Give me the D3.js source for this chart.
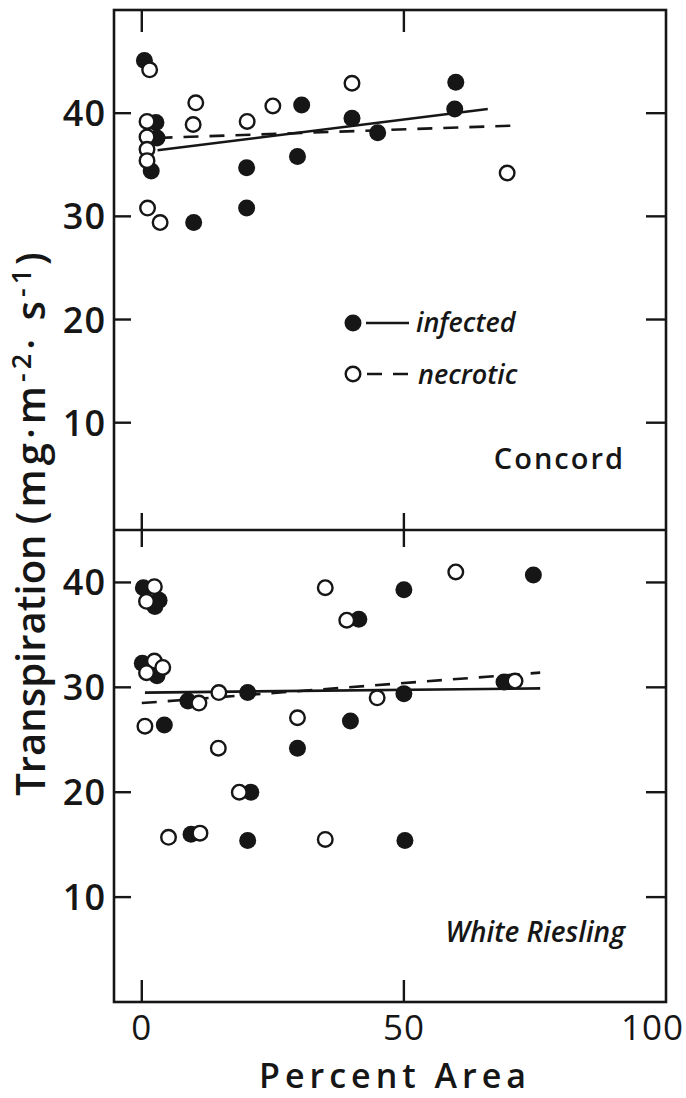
<!DOCTYPE html>
<html>
<head>
<meta charset="utf-8">
<script src="https://cdn.jsdelivr.net/npm/d3@7"></script>
<style>
  body { margin: 0; background: #fff; }
  text { font-family: "Open Sans", Lato, sans-serif; font-weight: 600; fill: #161616; }
</style>
</head>
<body>
<div id="chart"></div>
<script>
// percent area / transpiration (mg m-2 s-1)

let xTicks = [0, 50, 100]
let yTicks = [10, 20, 30, 40]

let concordInfected = [[0.5, 45.1], [2.7, 39.1], [2.9, 37.6], [1.8, 34.4], [9.9, 29.4], [20, 34.7], [20, 30.8],
    [29.7, 35.8], [30.5, 40.8], [40.1, 39.5], [45, 38.1], [59.9, 43.0], [59.7, 40.4]]
let concordNecrotic = [[1.5, 44.2], [1, 39.2], [1, 37.7], [1, 36.5], [1, 35.4], [1.1, 30.8], [3.5, 29.4],
    [10.3, 41.0], [9.8, 38.9], [20.1, 39.2], [25.0, 40.7], [40.1, 42.9], [69.7, 34.2]]
let concordInfectedFit = [[3, 36.4], [66, 40.4]]
let concordNecroticFit = [[3, 37.6], [71, 38.8]]

let rieslingInfected = [[0.3, 39.5], [3.3, 38.3], [2.5, 37.7], [0.1, 32.3], [2.9, 31.1], [4.3, 26.4], [8.8, 28.7],
    [20.2, 29.5], [29.7, 24.2], [20.8, 20.0], [9.4, 16.0], [20.2, 15.4], [50.2, 15.4], [41.4, 36.5], [39.8, 26.8],
    [50, 29.4], [50, 39.3], [69.1, 30.5], [74.7, 40.7]]
let rieslingNecrotic = [[2.4, 39.6], [0.9, 38.2], [2.4, 32.5], [0.9, 31.4], [4, 31.9], [0.6, 26.3], [10.9, 28.5],
    [14.7, 29.5], [14.6, 24.2], [29.7, 27.1], [18.6, 20.0], [5.1, 15.7], [11.1, 16.1], [35, 15.5], [35, 39.5],
    [39.1, 36.4], [44.9, 29.0], [59.9, 41.0], [71.2, 30.6]]
let rieslingInfectedFit = [[0.6, 29.5], [76, 29.9]]
let rieslingNecroticFit = [[0, 28.5], [76, 31.4]]

let ink = "#161616"
let width = 686, height = 1098
let left = 114, right = 666

let svg = d3.select("#chart").append("svg")
    .attr("width", width)
    .attr("height", height)

let x = d3.scaleLinear().domain([-5.3, 100]).range([left, right])

let panels = [
    { name: "Concord", italic: false, infected: concordInfected, necrotic: concordNecrotic,
      infFit: concordInfectedFit, necFit: concordNecroticFit,
      y: d3.scaleLinear().domain([-0.4, 50]).range([530, 10]) },
    { name: "White Riesling", italic: true, infected: rieslingInfected, necrotic: rieslingNecrotic,
      infFit: rieslingInfectedFit, necFit: rieslingNecroticFit,
      y: d3.scaleLinear().domain([0, 45]).range([1002, 530]) }
]

let frameTop = panels[0].y.range()[1], frameMid = panels[0].y.range()[0], frameBottom = panels[1].y.range()[0]

// frame and divider
svg.append("rect")
    .attr("x", left).attr("y", frameTop)
    .attr("width", right - left).attr("height", frameBottom - frameTop)
    .attr("fill", "none")
    .attr("stroke", ink)
    .attr("stroke-width", 2.6)

svg.append("line")
    .attr("x1", left).attr("x2", right)
    .attr("y1", frameMid).attr("y2", frameMid)
    .attr("stroke", ink)
    .attr("stroke-width", 2.6)

// x ticks: top edge, divider, bottom edge
let xt = xTicks.filter(d => d < 100)
svg.selectAll(".xtop").data(xt).enter().append("line")
    .attr("x1", d => x(d)).attr("x2", d => x(d))
    .attr("y1", frameTop).attr("y2", frameTop + 22)
    .attr("stroke", ink).attr("stroke-width", 2.4)
svg.selectAll(".xmid").data(xt).enter().append("line")
    .attr("x1", d => x(d)).attr("x2", d => x(d))
    .attr("y1", frameMid - 17).attr("y2", frameMid + 17)
    .attr("stroke", ink).attr("stroke-width", 2.4)
svg.selectAll(".xbot").data(xt).enter().append("line")
    .attr("x1", d => x(d)).attr("x2", d => x(d))
    .attr("y1", frameBottom).attr("y2", frameBottom - 22)
    .attr("stroke", ink).attr("stroke-width", 2.4)

svg.selectAll(".xlab").data(xTicks).enter().append("text")
    .attr("x", d => d == 100 ? 684 : x(d))
    .attr("y", 1040)
    .attr("text-anchor", d => d == 100 ? "end" : "middle")
    .style("font-size", "35px")
    .style("font-weight", 500)
    .style("letter-spacing", "1px")
    .text(d => d)

svg.append("text")
    .attr("x", 395)
    .attr("y", 1088)
    .attr("text-anchor", "middle")
    .style("font-size", "34px")
    .style("letter-spacing", "5px")
    .text("Percent Area")

let yTitle = svg.append("text")
    .attr("transform", "translate(45,522) rotate(-90)")
    .attr("text-anchor", "middle")
    .style("font-size", "40px")
yTitle.append("tspan").text("Transpiration ")
let unit = yTitle.append("tspan").style("letter-spacing", "4px")
unit.append("tspan").text("(mg·m")
unit.append("tspan").attr("dy", -14).style("font-size", "27px").text("-2")
unit.append("tspan").attr("dy", 14).text("· s")
unit.append("tspan").attr("dy", -14).style("font-size", "27px").text("-1")
unit.append("tspan").attr("dy", 14).text(")")

let line = d3.line().x(d => x(d[0]))

for (let p of panels) {
    let y = p.y
    line.y(d => y(d[1]))

    let g = svg.append("g")

    g.selectAll(".yl").data(yTicks).enter().append("line")
        .attr("x1", left).attr("x2", left + 17)
        .attr("y1", d => y(d)).attr("y2", d => y(d))
        .attr("stroke", ink).attr("stroke-width", 2.4)
    g.selectAll(".yr").data(yTicks).enter().append("line")
        .attr("x1", right).attr("x2", right - 20)
        .attr("y1", d => y(d)).attr("y2", d => y(d))
        .attr("stroke", ink).attr("stroke-width", 2.4)
    g.selectAll(".ylab").data(yTicks).enter().append("text")
        .attr("x", 106)
        .attr("y", d => y(d) + 13)
        .attr("text-anchor", "end")
        .style("font-size", "36px")
        .style("letter-spacing", "1px")
        .text(d => d)

    g.append("path")
        .datum(p.infFit)
        .attr("fill", "none")
        .attr("stroke", ink)
        .attr("stroke-width", 2.6)
        .attr("d", line)
    g.append("path")
        .datum(p.necFit)
        .attr("fill", "none")
        .attr("stroke", ink)
        .attr("stroke-width", 2.6)
        .attr("stroke-dasharray", "15 11")
        .attr("d", line)

    g.selectAll(".inf").data(p.infected).enter().append("circle")
        .attr("cx", d => x(d[0]))
        .attr("cy", d => y(d[1]))
        .attr("r", 8.5)
        .attr("fill", ink)
    g.selectAll(".nec").data(p.necrotic).enter().append("circle")
        .attr("cx", d => x(d[0]))
        .attr("cy", d => y(d[1]))
        .attr("r", 7.3)
        .attr("fill", "#fff")
        .attr("stroke", ink)
        .attr("stroke-width", 2.4)

    g.append("text")
        .attr("x", 625)
        .attr("y", p.italic ? 942 : 469)
        .attr("text-anchor", "end")
        .style("font-size", p.italic ? "28px" : "29px")
        .style("font-style", p.italic ? "italic" : "normal")
        .style("letter-spacing", p.italic ? "0px" : "2px")
        .text(p.name)
}

// legend
let leg = svg.append("g")
leg.append("circle").attr("cx", 353).attr("cy", 323).attr("r", 8.5).attr("fill", ink)
leg.append("line").attr("x1", 366).attr("x2", 409).attr("y1", 323).attr("y2", 323)
    .attr("stroke", ink).attr("stroke-width", 2.6)
leg.append("text").attr("x", 416).attr("y", 332)
    .style("font-size", "27px").style("font-style", "italic").text("infected")

leg.append("circle").attr("cx", 353).attr("cy", 374).attr("r", 7.3)
    .attr("fill", "#fff").attr("stroke", ink).attr("stroke-width", 2.4)
leg.append("line").attr("x1", 367).attr("x2", 409).attr("y1", 374).attr("y2", 374)
    .attr("stroke", ink).attr("stroke-width", 2.6).attr("stroke-dasharray", "15 11")
leg.append("text").attr("x", 418).attr("y", 384)
    .style("font-size", "27px").style("font-style", "italic").text("necrotic")
</script>
</body>
</html>
